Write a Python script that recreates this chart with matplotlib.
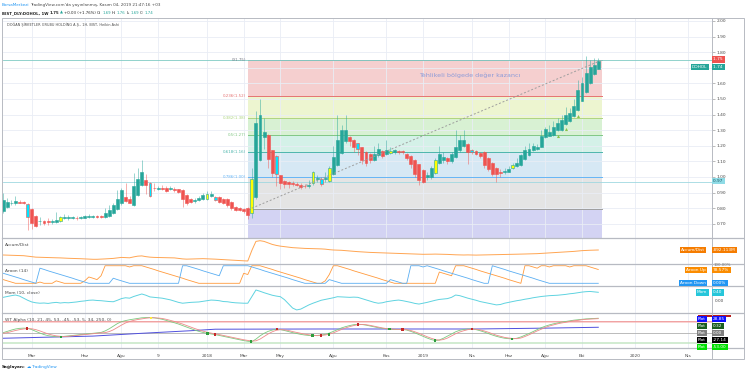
import numpy as np
import matplotlib
matplotlib.use('Agg')
import matplotlib.pyplot as plt
from matplotlib.lines import Line2D
from matplotlib.patches import Rectangle

W, H = 745, 375

## weekly bars, week index 0 = 2 Jan 2017
weeks = np.arange(2, 149)

opens = [0.78, 0.81, 0.83, 0.83, 0.84, 0.84, 0.827, 0.795, 0.75, 0.716, 0.718, 0.716, 0.71, 0.714, 0.718,
         0.736, 0.738, 0.738, 0.739, 0.738, 0.740, 0.742, 0.745, 0.749, 0.748, 0.744, 0.75, 0.77, 0.795, 0.833,
         0.87, 0.86, 0.82, 0.885, 0.95, 0.98, 0.96, 0.932, 0.925, 0.93, 0.93, 0.925, 0.925, 0.92, 0.917,
         0.885, 0.86, 0.845, 0.85, 0.86, 0.86, 0.875, 0.87, 0.87, 0.86, 0.86, 0.84, 0.81, 0.80, 0.795,
         0.80, 0.77, 0.87, 1.11, 1.256, 1.27, 1.17, 1.135, 1.01, 0.975, 0.965, 0.958, 0.955, 0.95, 0.945,
         0.94, 0.96, 0.985, 0.99, 0.985, 0.975, 1.02, 1.077, 1.155, 1.23, 1.256, 1.24, 1.215, 1.19, 1.16,
         1.15, 1.11, 1.14, 1.165, 1.15, 1.155, 1.16, 1.166, 1.164, 1.15, 1.135, 1.11, 1.08, 1.045, 1.00,
         1.00, 1.026, 1.09, 1.11, 1.12, 1.10, 1.13, 1.17, 1.20, 1.21, 1.17, 1.165, 1.155, 1.16, 1.12,
         1.09, 1.06, 1.03, 1.03, 1.035, 1.06, 1.07, 1.077, 1.115, 1.14, 1.17, 1.18, 1.195, 1.256, 1.265,
         1.27, 1.30, 1.30, 1.34, 1.36, 1.39, 1.43, 1.49, 1.547, 1.60, 1.66, 1.69]
closes = [0.85, 0.84, 0.835, 0.845, 0.835, 0.833, 0.745, 0.705, 0.686, 0.72, 0.705, 0.712, 0.72, 0.725, 0.744,
          0.744, 0.742, 0.742, 0.735, 0.742, 0.747, 0.749, 0.749, 0.745, 0.744, 0.77, 0.79, 0.82, 0.86, 0.915,
          0.845, 0.835, 0.94, 0.99, 1.034, 0.95, 0.88, 0.928, 0.93, 0.925, 0.91, 0.93, 0.915, 0.905, 0.86,
          0.835, 0.84, 0.855, 0.866, 0.885, 0.89, 0.89, 0.85, 0.84, 0.835, 0.82, 0.80, 0.79, 0.79, 0.785,
          0.755, 0.987, 1.346, 1.40, 1.29, 1.115, 1.026, 1.02, 0.96, 0.955, 0.955, 0.955, 0.95, 0.935, 0.94,
          0.95, 1.03, 0.995, 0.955, 0.995, 1.06, 1.13, 1.24, 1.30, 1.30, 1.23, 1.19, 1.18, 1.11, 1.09,
          1.11, 1.148, 1.18, 1.135, 1.17, 1.165, 1.17, 1.162, 1.16, 1.12, 1.08, 1.02, 0.98, 0.97, 1.01,
          1.06, 1.11, 1.15, 1.125, 1.10, 1.15, 1.19, 1.24, 1.235, 1.16, 1.16, 1.145, 1.135, 1.077, 1.05,
          1.02, 1.02, 1.025, 1.04, 1.05, 1.077, 1.09, 1.14, 1.17, 1.18, 1.20, 1.19, 1.26, 1.31, 1.29,
          1.32, 1.345, 1.366, 1.40, 1.41, 1.455, 1.56, 1.605, 1.667, 1.707, 1.72, 1.74]
highs = [0.90, 0.865, 0.85, 0.88, 0.85, 0.845, 0.835, 0.80, 0.755, 0.745, 0.725, 0.74, 0.73, 0.778, 0.75,
         0.765, 0.755, 0.75, 0.752, 0.75, 0.755, 0.76, 0.755, 0.755, 0.755, 0.80, 0.82, 0.83, 0.916, 0.93,
         0.96, 0.88, 1.026, 1.06, 1.11, 1.02, 0.97, 0.96, 0.94, 0.95, 0.94, 0.945, 0.935, 0.925, 0.92,
         0.89, 0.865, 0.865, 0.875, 0.895, 0.91, 0.91, 0.88, 0.875, 0.865, 0.865, 0.845, 0.815, 0.81, 0.80,
         0.805, 1.06, 1.42, 1.50, 1.38, 1.275, 1.175, 1.14, 1.015, 0.98, 0.975, 0.975, 0.97, 0.96, 0.955,
         0.98, 1.04, 1.01, 1.00, 1.03, 1.07, 1.20, 1.40, 1.33, 1.40, 1.26, 1.245, 1.22, 1.195, 1.165,
         1.155, 1.20, 1.22, 1.17, 1.24, 1.19, 1.18, 1.175, 1.17, 1.155, 1.14, 1.115, 1.085, 1.05, 1.03,
         1.07, 1.12, 1.20, 1.16, 1.13, 1.16, 1.30, 1.27, 1.30, 1.215, 1.18, 1.17, 1.16, 1.165, 1.125,
         1.095, 1.065, 1.05, 1.06, 1.07, 1.09, 1.12, 1.15, 1.20, 1.22, 1.22, 1.21, 1.30, 1.32, 1.33,
         1.36, 1.38, 1.40, 1.45, 1.44, 1.50, 1.62, 1.64, 1.776, 1.75, 1.76, 1.76]
lows = [0.77, 0.80, 0.82, 0.82, 0.83, 0.825, 0.66, 0.665, 0.68, 0.69, 0.695, 0.69, 0.70, 0.705, 0.71,
        0.73, 0.725, 0.73, 0.725, 0.73, 0.735, 0.735, 0.74, 0.74, 0.74, 0.74, 0.745, 0.765, 0.79, 0.82,
        0.84, 0.83, 0.815, 0.88, 0.945, 0.89, 0.87, 0.91, 0.915, 0.915, 0.905, 0.915, 0.905, 0.895, 0.81,
        0.82, 0.83, 0.835, 0.845, 0.855, 0.855, 0.87, 0.845, 0.835, 0.825, 0.81, 0.79, 0.78, 0.78, 0.77,
        0.73, 0.74, 0.86, 1.10, 1.18, 1.06, 1.00, 0.94, 0.92, 0.93, 0.93, 0.94, 0.94, 0.925, 0.93,
        0.93, 0.95, 0.97, 0.945, 0.97, 0.965, 1.01, 1.07, 1.15, 1.22, 1.20, 1.16, 1.14, 1.08, 1.07,
        1.09, 1.10, 1.13, 1.12, 1.14, 1.15, 1.15, 1.15, 1.15, 1.11, 1.06, 1.00, 0.95, 0.96, 0.98,
        0.99, 1.02, 1.085, 1.09, 1.08, 1.09, 1.12, 1.16, 1.19, 1.08, 1.15, 1.14, 1.12, 1.06, 1.04,
        1.005, 0.97, 1.00, 1.02, 1.03, 1.05, 1.065, 1.07, 1.11, 1.135, 1.165, 1.175, 1.19, 1.25, 1.26,
        1.265, 1.295, 1.295, 1.335, 1.355, 1.385, 1.425, 1.485, 1.54, 1.595, 1.655, 1.69]
yellow_weeks = [16, 52, 63, 78, 82, 97, 108, 127]
cyan_weeks = [8, 38, 54, 69, 80, 89, 117]
signal_weeks = [138, 140, 143]
signal_prices = [1.263, 1.308, 1.393]

fib_labels = ['0(1.75)', '0.236(1.52)', '0.382(1.38)', '0.5(1.27)', '0.618(1.16)', '0.786(1.00)', '']
fib_prices = [1.75, 1.52, 1.38, 1.27, 1.16, 1.00, 0.796]

accdist = [-992, -995, -998, -1000, -1003, -1006, -1015, -1025, -1035, -1038, -1040, -1043, -1046,
           -1048, -1050, -1055, -1058, -1060, -1062, -1066, -1070, -1074, -1078, -1078, -1075, -1070, -1065,
           -1060, -1050, -1040, -1045, -1048, -1030, -1015, -1010,
           -1025, -1035, -1040, -1042, -1045, -1046, -1048, -1050, -1060, -1070, -1075, -1072,
           -1070, -1068, -1065, -1068, -1070, -1075, -1080, -1085, -1090, -1095, -1100, -1104, -1108, -1112,
           -900, -720, -706, -720, -750, -780, -800, -815,
           -826, -835, -845, -850, -855, -860, -862, -865, -868, -870, -875, -885, -892, -895, -898,
           -905, -910, -918, -925, -930, -935, -940, -942, -946, -950, -952, -955, -958, -960, -962,
           -965, -968, -972, -975, -978, -978, -976, -974, -975, -978, -980, -985, -988, -990, -992, -990,
           -992, -994,
           -992, -990, -988, -986, -985, -984, -982, -980, -978, -976, -975, -972, -970, -968, -965, -960,
           -955, -950, -945, -940, -935, -930, -926, -920, -912, -905, -900, -897, -894, -892]

aroon_up = [21, 14, 7, 0, 0, 0, 0, 0, 0, 7, 0, 0, 0, 14, 7, 0, 0, 0, 0, 0, 14, 36, 29, 21, 43,
            100, 100, 100, 100, 100, 100, 93, 100, 100, 100,
            93, 86, 79, 71, 64, 57, 50, 43, 36, 29, 21, 14, 7, 0,
            0, 0, 0, 0, 0, 0, 0, 0, 0, 0, 57, 50, 100, 100, 100,
            93, 86, 79, 71, 64, 57, 50, 43, 36, 29, 21, 14, 7, 0,
            0, 14, 50, 100, 100,
            93, 86, 79, 71, 64, 57, 50, 43, 36, 29, 21, 14, 7, 0,
            0, 0, 0, 0, 0, 0, 0, 0, 0, 0, 64, 57, 50, 43, 100, 100, 100,
            93, 86, 79, 71, 64, 57, 50, 43, 36, 29, 21, 14, 7, 0,
            100, 100, 93, 86, 100, 100, 93, 100, 100, 100, 100, 93, 100, 100, 100, 100,
            92.86, 85.71, 78.57]
aroon_down = [57, 50, 43, 36, 29, 21, 14, 7, 0,
              86, 79, 71, 64, 57, 50, 43, 36, 29, 21, 14, 7, 0,
              0, 0, 0, 0, 0, 29, 21, 14, 7, 0,
              0, 0, 0, 0, 0, 0, 0, 0, 0, 0, 0, 0,
              100, 100, 93, 86, 79, 71, 64, 57, 50, 43,
              100, 100, 100, 100, 100, 100, 100,
              93, 86, 79, 71, 64, 57, 50, 43, 36, 29, 21, 14, 7, 0,
              0, 0, 0, 0, 0, 21, 14, 7,
              0, 0, 0, 0, 0, 0, 0, 0, 0, 0, 0, 0,
              21, 14, 7, 0, 0, 100, 100, 100, 93, 100,
              93, 86, 79, 71, 64, 57, 50, 43, 36, 29, 21, 14, 7, 0,
              0, 100,
              93, 86, 79, 71, 64, 57, 50, 43, 36, 29, 21, 14, 7, 0,
              0, 0, 0, 0, 0, 0, 0, 0, 0, 0, 0, 0]

momentum = [0.16, 0.20, 0.24, 0.27, 0.22, 0.12, 0.02, -0.06, -0.10, -0.12, -0.11,
            -0.13, -0.10, -0.08, -0.11, -0.09, -0.10, -0.08, -0.06, -0.03, -0.01, 0.02, 0.03,
            0.01, 0.00, -0.02, -0.04, -0.05, 0.02, 0.10, 0.14, 0.12, 0.20, 0.26, 0.32,
            0.26, 0.18, 0.16, 0.14, 0.12, 0.08, 0.04, -0.02, -0.08, -0.12, -0.10, -0.08, -0.07, -0.06,
            -0.03, 0.00, 0.03, 0.02, 0.00, -0.04, -0.05, -0.08, -0.10, -0.11, -0.12, -0.12,
            0.20, 0.51, 0.45, 0.38, 0.32, 0.26, 0.22, 0.19, 0.05, -0.15, -0.35, -0.44, -0.40, -0.30, -0.20, -0.12,
            -0.05, 0.02, 0.06, 0.10, 0.14, 0.19, 0.18, 0.17, 0.16, 0.17, 0.16, 0.10, 0.04, -0.02, -0.08, -0.12,
            -0.10, -0.05, -0.02, 0.01, 0.03, 0.00, -0.04, -0.08, -0.13, -0.16, -0.12, -0.08, -0.03, 0.02, 0.06, 0.08,
            0.10, 0.16, 0.27, 0.24, 0.18, 0.12, 0.07, 0.02, -0.04, -0.08, -0.12, -0.16, -0.20, -0.18, -0.12, -0.08,
            -0.04, 0.00, 0.03, 0.07, 0.10, 0.14, 0.17, 0.20, 0.22, 0.24, 0.25, 0.26, 0.28, 0.30, 0.33, 0.35,
            0.38, 0.41, 0.43, 0.44, 0.42, 0.40]

wt1 = [0, 6, 12, 17, 20, 21, 20, 14, 6, -2, -9, -14, -17, -19, -19,
       -17, -15, -13, -11, -9, -7, -5, -3, -1, 1, 8, 18, 30, 42, 51, 56,
       60, 63, 66, 69, 70, 70, 69, 66, 62, 57, 51, 46, 40, 33,
       26, 19, 12, 6, 1, -3, -6, -9, -13, -17, -21, -25, -29, -33, -37, -40, -42,
       -30, -15, -3, 6, 12, 16, 14, 10, 5, 0, -4, -8, -11, -13, -14,
       -13, -11, -8, -2, 6, 14, 22, 28, 33, 37, 39, 38, 35, 31, 27, 23, 20, 18, 16, 15, 15, 15,
       12, 6, -1, -9, -17, -25, -32, -37, -34, -26, -16, -6, 4, 11, 15, 17, 17,
       14, 9, 3, -4, -11, -17, -22, -26, -28, -29, -26, -20, -12, -4, 5, 14, 23, 30, 36,
       41, 45, 49, 52, 55, 58, 60, 62, 64, 65, 66, 67]
wt2 = [-3, 0, 5, 10, 14, 17, 19, 18, 14, 8, 1, -6, -11, -15, -17,
       -18, -17, -15, -13, -11, -9, -7, -5, -3, -1, 0, 5, 13, 24, 35, 45,
       52, 57, 61, 64, 67, 69, 69, 68, 66, 62, 57, 52, 46, 40,
       33, 26, 19, 13, 7, 2, -2, -6, -9, -13, -17, -21, -25, -29, -33, -36, -39,
       -38, -30, -18, -6, 4, 11, 14, 13, 10, 5, 1, -3, -7, -10, -13,
       -14, -13, -11, -7, -1, 7, 15, 22, 28, 33, 37, 38, 37, 34, 30, 26, 22, 19, 17, 16, 15, 15,
       14, 10, 4, -3, -11, -19, -26, -32, -35, -32, -25, -15, -5, 3, 9, 14, 16,
       16, 13, 8, 2, -5, -12, -17, -22, -25, -27, -28, -25, -18, -10, -1, 8, 16, 24, 31,
       36, 41, 45, 48, 52, 55, 57, 60, 62, 63, 64, 65]
wt_slow_weeks = [2, 24, 36, 48, 54, 80, 118, 135, 148]
wt_slow = [-26, -16, -3, 9, 16, 17, 17, 21, 25]
cross_weeks = [7.9, 16.2, 52.1, 54, 62.8, 69.2, 77.9, 80, 81.9, 89, 96.8, 100, 107.9, 117, 126.8]
cross_vals = [20, -19, -3, -8, -42, 16, -14, -13, -9, 38, 17, 15, -37, 17, -29]
cross_up = [0, 1, 1, 0, 1, 0, 1, 0, 1, 0, 1, 0, 1, 0, 1]

tick_weeks = [9, 22, 31, 40, 52, 61, 70, 83, 96, 105, 117, 126, 135, 144, 157, 170]
tick_labels = ['Mar', 'Haz', 'Ağu', '9', '2018', 'Mar', 'May', 'Ağu', 'Kas', '2019',
               'Nis', 'Haz', 'Ağu', 'Eki', '2020', 'Nis']
price_ticks = [0.7, 0.8, 0.9, 1.0, 1.1, 1.2, 1.3, 1.4, 1.5, 1.6, 1.7, 1.8, 1.9, 2.0]

UP, DOWN = '#26a69a', '#ef5350'
GRID = '#e9edf5'
TXT = '#4a4a4a'

fig = plt.figure(figsize=(W / 100, H / 100), dpi=100)
renderer = fig.canvas.get_renderer()


def px_rect(x0, y0, x1, y1):
    return [x0 / W, 1 - y1 / H, (x1 - x0) / W, (y1 - y0) / H]


def ftext(x, y, s, **kw):
    kw.setdefault('va', 'center')
    kw.setdefault('fontsize', 3.2)
    return fig.text(x / W, 1 - y / H, s, **kw)


def chain(x, y, parts, size):
    # pieces of one line of text, each placed right after the previous one
    for s, c, bold, gap in parts:
        t = ftext(x, y, s, color=c, fontsize=size, fontweight='bold' if bold else 'normal')
        x = t.get_window_extent(renderer).x1 + gap


def fline(x0, y0, x1, y1, **kw):
    fig.add_artist(Line2D([x0 / W, x1 / W], [1 - y0 / H, 1 - y1 / H], transform=fig.transFigure, **kw))


def tag(x, y, s, fc, tc='white'):
    ftext(x, y, s, color=tc, fontsize=3.1, ha='left', zorder=10,
          bbox=dict(boxstyle='square,pad=0.3', fc=fc, ec='none'))


def pane(y0, y1, ylim):
    a = fig.add_axes(px_rect(3, y0, 712, y1))
    a.set_xlim(1.94, 175.9)
    a.set_ylim(*ylim)
    for s in a.spines.values():
        s.set_visible(False)
    a.set_xticks(tick_weeks)
    a.set_yticks([])
    a.tick_params(axis='x', length=0, labelbottom=False)
    a.grid(axis='x', color=GRID, lw=0.6)
    a.set_axisbelow(True)
    return a


## main price pane
ax = pane(17.5, 237.5, (0.612, 2.022))
ax.set_yticks(price_ticks)
# 1.70 sits under the last price tag
ax.set_yticklabels(['' if abs(v - 1.7) < 1e-9 else '%.2f' % v for v in price_ticks])
ax.yaxis.tick_right()
ax.tick_params(axis='y', length=2, width=0.4, color='#888', labelsize=3.2, labelcolor=TXT, pad=1.5)
ax.grid(axis='y', color=GRID, lw=0.6)

fx = [62.0, 148.9]
band_cols = ['#f5cfcf', '#edf5d0', '#d8f1d3', '#d4f1e8', '#d6e8f4', '#e4e4e4', '#d3d3f3']
line_cols = ['#9e9e9e', '#e57373', '#aed581', '#81c784', '#4db6ac', '#64b5f6', '#9e9e9e']
bounds = fib_prices + [0.5]
for i in range(len(fib_prices)):
    ax.fill_between(fx, bounds[i + 1], bounds[i], color=band_cols[i], lw=0, zorder=0.5)
    ax.plot(fx, [fib_prices[i]] * 2, color=line_cols[i], lw=0.7, zorder=0.6)
    if fib_labels[i]:
        ax.text(61.6, fib_prices[i], fib_labels[i], color=line_cols[i] if i else '#787b86',
                fontsize=2.9, ha='right', va='center')
ax.plot([63, 148.5], [0.80, 1.745], color='#9e9e9e', lw=0.7, ls=(0, (2, 2)), zorder=3)
ax.axhline(1.75, color='#80cbc4', lw=0.6, zorder=0.7)
ax.axhline(0.97, color='#9fd8e0', lw=0.6, zorder=0.7)
ax.text(104, 1.655, 'Tehlikeli bölgede değer kazancı', color='#8d9bd8', fontsize=4.6,
        ha='left', va='center')

op = np.array(opens)
cl = np.array(closes)
face, edge = [], []
for w, o, c in zip(weeks, op, cl):
    col = UP if c >= o else DOWN
    if w in yellow_weeks:
        face.append('#ffff00'); edge.append(UP)
    elif w in cyan_weeks:
        face.append('#00e5ff'); edge.append(DOWN)
    else:
        face.append(col); edge.append(col)
wick = [(UP if c >= o else DOWN) for o, c in zip(op, cl)]
ax.vlines(weeks, lows, highs, colors=wick, lw=0.6, alpha=0.55, zorder=2)
ax.bar(weeks, np.maximum(np.abs(cl - op), 0.004), bottom=np.minimum(op, cl), width=0.72,
       color=face, edgecolor=edge, lw=0.4, zorder=2.5)
ax.scatter(signal_weeks, signal_prices, marker='^', s=5, color='#8bc34a', lw=0, zorder=3)

## accumulation / distribution
ax_ad = pane(238, 264, (-1172, -652))
ax_ad.plot(weeks, accdist, color='#ffa552', lw=0.7)

## aroon
ax_ar = pane(264.5, 285.5, (-12.5, 107))
ax_ar.plot(weeks, aroon_up, color='#ff9a3c', lw=0.6)
ax_ar.plot(weeks, aroon_down, color='#5aaef2', lw=0.6)

## momentum
ax_mo = pane(286, 313, (-0.586, 0.70))
ax_mo.plot(weeks, momentum, color='#5fd3e0', lw=0.7)

## WT alpha
ax_wt = pane(313.5, 347.5, (-69, 89))
ax_wt.axhspan(45, 53, color='#f7b6b6', alpha=0.6, lw=0)
ax_wt.axhline(53, color='#ef9a9a', lw=0.6)
ax_wt.axhspan(-53, -45, color='#bfe5c0', alpha=0.7, lw=0)
ax_wt.axhline(0, color='#b0b0b0', lw=0.6)
ax_wt.plot(wt_slow_weeks, wt_slow, color='#5050dd', lw=0.7)
ax_wt.plot(weeks, wt1, color='#7cc97f', lw=0.6)
ax_wt.plot(weeks, wt2, color='#ee8a8a', lw=0.6)
ax_wt.scatter(cross_weeks, cross_vals, s=3, marker='s', lw=0,
              color=['#2e9e3e' if u else '#c62828' for u in cross_up], zorder=4)
ax_wt.scatter([38.3], [70], s=4, marker='s', color='#ffeb3b', lw=0, zorder=4)
ax_wt.tick_params(axis='x', labelbottom=True, labelsize=3.2, labelcolor=TXT, pad=4.5)
ax_wt.set_xticklabels(tick_labels)

## frame and separators
fig.add_artist(Rectangle((2 / W, 1 - 359 / H), 742 / W, 341.5 / H, transform=fig.transFigure,
                         fill=False, ec='#b7bac2', lw=0.7))
for y in [237.8, 264.3, 285.8, 313.3, 347.6]:
    fline(2, y, 744, y, color='#b7bac2', lw=0.9)
fline(712, 17.5, 712, 359, color='#b7bac2', lw=0.7)

## header
chain(2, 5, [('BorsaMerkezi', '#2196f3', False, 0.8),
             ("TradingView.com'da yayınlanmış, Kasım 04, 2019 21:47:16 +03", TXT, False, 0)], 3.0)
chain(2, 13, [('BIST_DLY:DOHOL, 1W', '#222222', True, 1.5), ('1.75', '#222222', True, 0.6),
              ('▲', UP, False, 0.6), ('+0.03 (+1.76%)', '#222222', False, 1.5),
              ('O:', '#222222', False, 0.6), ('1.69', UP, False, 1.2),
              ('H:', '#222222', False, 0.6), ('1.76', UP, False, 1.2),
              ('L:', '#222222', False, 0.6), ('1.69', UP, False, 1.2),
              ('C:', '#222222', False, 0.6), ('1.74', UP, False, 0)], 2.8)
ftext(7, 25, 'DOĞAN ŞİRKETLER GRUBU HOLDİNG A.Ş., 1H, BIST, Heikin Ashi', color=TXT, fontsize=2.5)

## right side labels
tag(713, 59.5, '1.75 ', DOWN)
tag(692, 67, 'DOHOL', UP)
tag(713, 67, '1.74 ', UP)
tag(713, 181, '0.97 ', '#8fdbe6', '#1c5560')
tag(681, 250, 'Accum/Dist', '#f57c00')
tag(713, 250, '-892.113M', '#f57c00')
ftext(714, 265, '100.00%', color='#777', fontsize=2.8)
tag(686, 270, 'Aroon Up', '#fb8c00')
tag(713, 270, '78.57%', '#fb8c00')
tag(680, 283, 'Aroon Down', '#2196f3')
tag(713, 283, '0.00%', '#2196f3')
tag(697, 292.3, 'Mom', '#26c6da')
tag(713, 292.3, '0.40', '#26c6da')
ftext(715, 300.7, '0.00', color=TXT, fontsize=3.1)
fig.add_artist(Rectangle((698 / W, 1 - 316.5 / H), 33 / W, 1.5 / H, transform=fig.transFigure,
                         fc='#b71c1c', ec='none'))
plots = [(319, '28.85', '#1010ff'), (326, '0.32', '#1b5e20'), (333, '0.00', '#808080'),
         (340, '-27.14', '#000000'), (347, '-53.00', '#00e000')]
for y, v, c in plots:
    tag(698, y, 'Plot', c)
    tag(713, y, v, c)

## labels of the panes
ftext(5, 245, 'Accum/Dist', color=TXT)
ftext(5, 271, 'Aroon (14)', color=TXT)
ftext(5, 292.5, 'Mom (10, close)', color=TXT)
ftext(5, 320.5, 'WT Alpha (10, 21, 45, 53, -45, -53, 5, 34, 250, 0)', color=TXT)

## footer
chain(2, 367, [('Sağlayan:', '#222222', True, 1.5), ('☁', '#2196f3', False, 0.8),
               ('TradingView', '#2196f3', False, 0)], 3.1)

fig.savefig('out.png', dpi=100)
